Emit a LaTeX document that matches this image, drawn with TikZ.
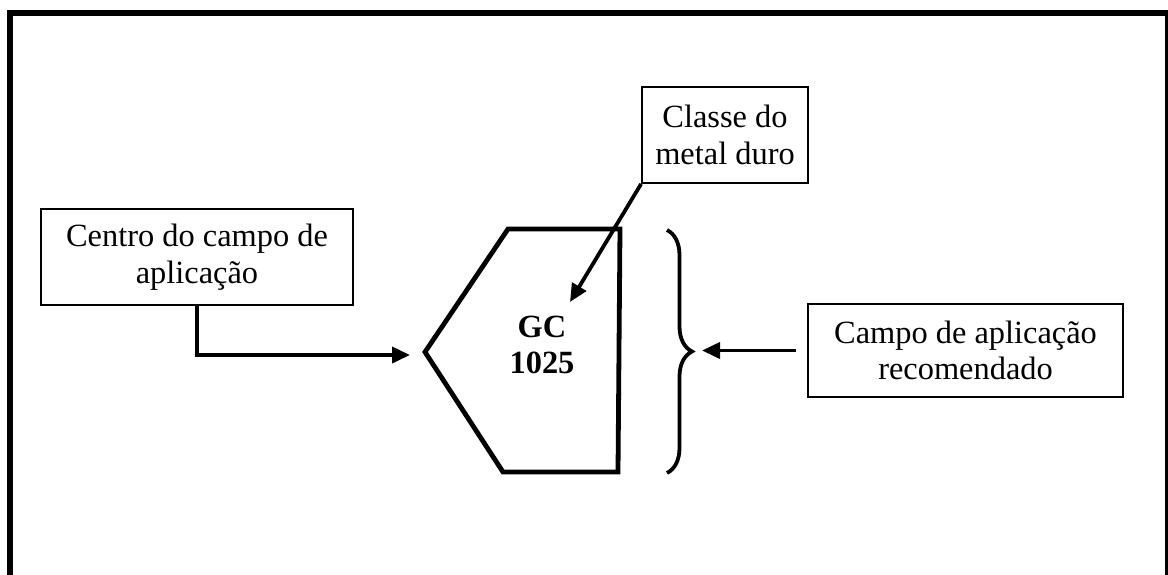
\documentclass[tikz,border=0pt]{standalone}
\usepackage{fontspec}
\setmainfont{Liberation Serif}
\usetikzlibrary{arrows.meta,decorations.pathreplacing}
\begin{document}
\begin{tikzpicture}[x=0.5pt,y=-0.5pt,
  lbl/.style={draw,line width=0.9pt,align=center,inner sep=0pt,font=\fontsize{16.2}{18.4}\selectfont},
  conn/.style={line width=1.9pt,-{Triangle[length=9pt,width=8pt]}},
  insert/.style={line width=2.4pt,line join=miter},
  bracestyle/.style={line width=1.9pt,decorate,decoration={brace,amplitude=12.5pt}}
  ]
\useasboundingbox (0,0) rectangle (1168,574);
\clip (0,0) rectangle (1168,574);
\draw[line width=3pt] (10,13) rectangle (1168,620);

\node[lbl,minimum width=156pt,minimum height=48pt] (cen) at (197,257) {Centro do campo de\\aplicação};
\node[lbl,minimum width=83pt,minimum height=48pt] (cls) at (725,135) {Classe do\\metal duro};
\node[lbl,minimum width=157.5pt,minimum height=46.5pt] (rec) at (965.5,350.5) {Campo de aplicação\\recomendado};

\coordinate (p1) at (508,229);
\coordinate (p2) at (620,229);
\coordinate (p3) at (618,472);
\coordinate (p4) at (503,472);
\coordinate (p5) at (425,352);
\draw[insert] (p1) -- (p2) -- (p3) -- (p4) -- (p5) -- cycle;
\node[font=\bfseries\fontsize{16.2}{18.4}\selectfont,align=center,inner sep=0pt] (gc) at (542,345) {GC\\1025};

\coordinate (tipL) at (410,355);
\draw[conn] (cen.south) |- (tipL);
\coordinate (tipC) at (570,302);
\draw[conn] (cls.south west) -- (tipC);
\coordinate (tipR) at (702,351);
\draw[conn] ([xshift=-5.5pt]rec.west) -- (tipR |- rec.west);

\coordinate (bt) at (667,230);
\coordinate (bb) at (667,473);
\draw[bracestyle] (bt) -- (bb);
\end{tikzpicture}
\end{document}
